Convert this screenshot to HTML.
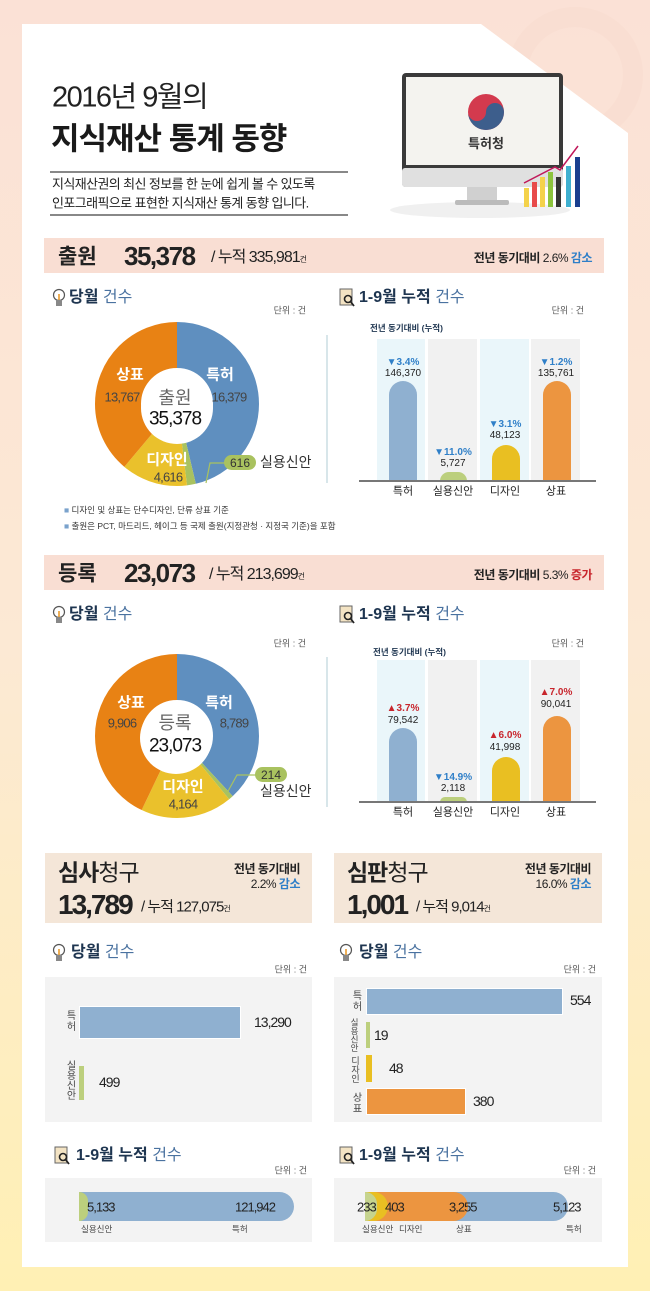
<!DOCTYPE html>
<html><head><meta charset="utf-8">
<style>
*{margin:0;padding:0;box-sizing:border-box}
body{width:650px;height:1291px;position:relative;overflow:hidden;font-family:"Liberation Sans","Noto Sans CJK KR",sans-serif;color:#222;background:linear-gradient(to bottom,#fbe1d6 0%,#fce9d4 50%,#fff0b4 100%)}
.panel{position:absolute;left:0;top:0;width:650px;height:1291px;background:#fff;clip-path:polygon(22px 24px,481px 24px,628px 133px,628px 1267px,22px 1267px)}
.t{position:absolute;white-space:nowrap;line-height:1}
.c{transform:translate(-50%,-50%)}
.l{transform:translateY(-50%)}
.r{transform:translate(-100%,-50%)}
.b{font-weight:bold}
.blue{color:#2f7fc8}
.red{color:#c8252c}
.hd{font-size:16px;color:#1e3550;font-weight:bold}
.hd span{font-weight:normal;color:#4a72a0}
.unit{font-size:9px;color:#555}
.bar{position:absolute}
.vt{position:absolute;writing-mode:vertical-rl;font-size:10px;color:#444;line-height:1;letter-spacing:1px}
</style></head><body>
<svg style="position:absolute;left:0;top:0" width="650" height="1291">
<circle cx="575" cy="75" r="58" fill="none" stroke="#f9dccf" stroke-width="20" opacity="0.6"/>
</svg>
<div class="panel"></div>

<!-- title -->
<div class="t l" style="left:52px;top:98px;font-size:29px;letter-spacing:-1.5px;color:#222">2016년 9월의</div>
<div class="t l b" style="left:51px;top:139px;font-size:31px;letter-spacing:-1px;color:#1a1a1a">지식재산 통계 동향</div>
<div style="position:absolute;left:50px;top:171px;width:298px;height:2px;background:#888"></div>
<div class="t l" style="left:52px;top:184px;font-size:13px;letter-spacing:-0.6px">지식재산권의 최신 정보를 한 눈에 쉽게 볼 수 있도록</div>
<div class="t l" style="left:52px;top:203px;font-size:13px;letter-spacing:-0.6px">인포그래픽으로 표현한 지식재산 통계 동향 입니다.</div>
<div style="position:absolute;left:50px;top:214px;width:298px;height:2px;background:#888"></div>

<!-- monitor -->
<svg style="position:absolute;left:0;top:0" width="650" height="240">
<ellipse cx="480" cy="210" rx="90" ry="8" fill="#f0f0f0"/>
<rect x="402" y="73" width="161" height="114" rx="4" fill="#3a3a3a"/>
<rect x="402" y="168" width="161" height="19" rx="3" fill="#e0e0e0"/>
<rect x="406" y="77" width="153" height="88" fill="#f4f3ef"/>
<rect x="467" y="187" width="30" height="14" fill="#d0d0d0"/>
<rect x="455" y="200" width="54" height="5" rx="2" fill="#bbb"/>
<circle cx="486" cy="112" r="18" fill="#d33a4e"/>
<path d="M468 112 a18 18 0 0 0 36 0 a9 9 0 0 0 -18 0 a9 9 0 0 1 -18 0z" fill="#3d5e8c"/>
<text x="486" y="148" font-size="13" text-anchor="middle" font-family="Liberation Sans,Noto Sans CJK KR,sans-serif" font-weight="bold" fill="#333">특허청</text>
<rect x="524" y="188" width="5" height="19" fill="#f4d24a"/>
<rect x="532" y="182" width="5" height="25" fill="#e84a4a"/>
<rect x="540" y="177" width="5" height="30" fill="#f4d24a"/>
<rect x="548" y="172" width="5" height="35" fill="#8cc43c"/>
<rect x="556" y="177" width="5" height="30" fill="#333"/>
<rect x="566" y="166" width="5" height="41" fill="#3fb0d0"/>
<rect x="575" y="157" width="5" height="50" fill="#1a3f8f"/>
<polyline points="524,183 555,167 560,170 578,146" fill="none" stroke="#c0185a" stroke-width="1.5"/>
</svg>

<!-- 출원 header -->
<div style="position:absolute;left:44px;top:238px;width:560px;height:35px;background:#f9ded3"></div>
<div class="t l b" style="left:58px;top:257px;font-size:21px">출원</div>
<div class="t l b" style="left:124px;top:256px;font-size:26px;letter-spacing:-1.5px">35,378</div>
<div class="t l" style="left:211px;top:258px;font-size:16px;letter-spacing:-1px">/ 누적 335,981<span style="font-size:8px">건</span></div>
<div class="t r" style="left:592px;top:258px;font-size:12px;letter-spacing:-0.5px"><b>전년 동기대비</b> 2.6% <b class="blue">감소</b></div>

<!-- section1 headings -->
<svg style="position:absolute;left:52px;top:288px" width="14" height="20"><circle cx="7" cy="7" r="5.5" fill="#fff" stroke="#555" stroke-width="1.2"/><rect x="4" y="12" width="6" height="6" fill="#888"/><line x1="7" y1="6" x2="7" y2="12" stroke="#e8941f" stroke-width="1.5"/></svg>
<div class="t l hd" style="left:69px;top:298px">당월 <span>건수</span></div>
<div class="t r unit" style="left:306px;top:311px">단위 : 건</div>
<svg style="position:absolute;left:339px;top:288px" width="17" height="20"><rect x="1" y="1" width="12" height="16" fill="#f3e3c3" stroke="#666"/><circle cx="9" cy="11" r="3.5" fill="none" stroke="#222" stroke-width="1.6"/><line x1="11.5" y1="13.5" x2="15" y2="18" stroke="#222" stroke-width="1.8"/></svg>
<div class="t l hd" style="left:359px;top:298px">1-9월 누적 <span>건수</span></div>
<div class="t r unit" style="left:584px;top:311px">단위 : 건</div>

<!-- donut 1 -->
<svg style="position:absolute;left:0;top:0" width="650" height="560">
<g transform="rotate(-90 177 404)" fill="none" stroke-width="46">
<circle cx="177" cy="404" r="59" stroke="#5f8fbf" stroke-dasharray="171.6 400" stroke-dashoffset="0"/>
<circle cx="177" cy="404" r="59" stroke="#a9c25f" stroke-dasharray="6.45 400" stroke-dashoffset="-171.6"/>
<circle cx="177" cy="404" r="59" stroke="#eac12c" stroke-dasharray="48.37 400" stroke-dashoffset="-178.05"/>
<circle cx="177" cy="404" r="59" stroke="#e88214" stroke-dasharray="144.3 400" stroke-dashoffset="-226.42"/>
</g>
<circle cx="177" cy="408" r="36" fill="#fff"/>
<polyline points="206,483 210,463 225,463" fill="none" stroke="#a9c25f" stroke-width="1.2"/>
<rect x="224" y="455" width="32" height="15" rx="7.5" fill="#a9c25f"/>
<line x1="327" y1="335" x2="327" y2="483" stroke="#d8e6ea" stroke-width="2"/>
</svg>
<div class="t c b" style="left:220px;top:375px;font-size:15px;color:#fff">특허</div>
<div class="t c" style="left:229px;top:397px;font-size:13px;color:#444;letter-spacing:-0.8px">16,379</div>
<div class="t c b" style="left:130px;top:375px;font-size:15px;color:#fff">상표</div>
<div class="t c" style="left:122px;top:397px;font-size:13px;color:#444;letter-spacing:-0.8px">13,767</div>
<div class="t c" style="left:175px;top:398px;font-size:18px;color:#666">출원</div>
<div class="t c" style="left:175px;top:419px;font-size:19px;color:#111;letter-spacing:-1px">35,378</div>
<div class="t c b" style="left:167px;top:460px;font-size:15px;color:#fff">디자인</div>
<div class="t c" style="left:168px;top:477px;font-size:13px;color:#444;letter-spacing:-0.8px">4,616</div>
<div class="t c" style="left:240px;top:463px;font-size:12px;color:#333">616</div>
<div class="t l" style="left:260px;top:462px;font-size:14px;color:#333">실용신안</div>
<div class="t l" style="left:64px;top:510px;font-size:8.5px;color:#333"><span style="color:#7aa2cc">■</span> 디자인 및 상표는 단수디자인, 단류 상표 기준</div>
<div class="t l" style="left:64px;top:526px;font-size:8.5px;color:#333"><span style="color:#7aa2cc">■</span> 출원은 PCT, 마드리드, 헤이그 등 국제 출원(지정관청 · 지정국 기준)을 포함</div>

<!-- bar chart 1 -->
<div class="t l b" style="left:370px;top:328px;font-size:8.5px;color:#1e3550">전년 동기대비 (누적)</div>
<div class="bar" style="left:377px;top:339px;width:48px;height:142px;background:#eaf6fa"></div>
<div class="bar" style="left:428px;top:339px;width:49px;height:142px;background:#f1f1f1"></div>
<div class="bar" style="left:480px;top:339px;width:49px;height:142px;background:#eaf6fa"></div>
<div class="bar" style="left:531px;top:339px;width:49px;height:142px;background:#f1f1f1"></div>
<div class="bar" style="left:389px;top:381px;width:28px;height:100px;background:#8fb0d0;border-radius:14px 14px 0 0"></div>
<div class="bar" style="left:440px;top:472px;width:27px;height:9px;background:#bccf7d;border-radius:14px 14px 0 0"></div>
<div class="bar" style="left:492px;top:445px;width:28px;height:36px;background:#e9bf22;border-radius:14px 14px 0 0"></div>
<div class="bar" style="left:543px;top:381px;width:28px;height:100px;background:#ec9540;border-radius:14px 14px 0 0"></div>
<div class="bar" style="left:359px;top:480px;width:237px;height:2px;background:#777"></div>
<div class="t c b blue" style="left:403px;top:363px;font-size:10px">▼3.4%</div>
<div class="t c" style="left:403px;top:374px;font-size:10px">146,370</div>
<div class="t c b blue" style="left:453px;top:453px;font-size:10px">▼11.0%</div>
<div class="t c" style="left:453px;top:464px;font-size:10px">5,727</div>
<div class="t c b blue" style="left:505px;top:425px;font-size:10px">▼3.1%</div>
<div class="t c" style="left:505px;top:436px;font-size:10px">48,123</div>
<div class="t c b blue" style="left:556px;top:363px;font-size:10px">▼1.2%</div>
<div class="t c" style="left:556px;top:374px;font-size:10px">135,761</div>
<div class="t c" style="left:403px;top:492px;font-size:11px">특허</div>
<div class="t c" style="left:453px;top:492px;font-size:11px">실용신안</div>
<div class="t c" style="left:505px;top:492px;font-size:11px">디자인</div>
<div class="t c" style="left:556px;top:492px;font-size:11px">상표</div>

<!-- 등록 header -->
<div style="position:absolute;left:44px;top:555px;width:560px;height:35px;background:#f9ded3"></div>
<div class="t l b" style="left:58px;top:574px;font-size:21px">등록</div>
<div class="t l b" style="left:124px;top:573px;font-size:26px;letter-spacing:-1.5px">23,073</div>
<div class="t l" style="left:209px;top:575px;font-size:16px;letter-spacing:-1px">/ 누적 213,699<span style="font-size:8px">건</span></div>
<div class="t r" style="left:592px;top:575px;font-size:12px;letter-spacing:-0.5px"><b>전년 동기대비</b> 5.3% <b class="red">증가</b></div>

<svg style="position:absolute;left:52px;top:605px" width="14" height="20"><circle cx="7" cy="7" r="5.5" fill="#fff" stroke="#555" stroke-width="1.2"/><rect x="4" y="12" width="6" height="6" fill="#888"/><line x1="7" y1="6" x2="7" y2="12" stroke="#e8941f" stroke-width="1.5"/></svg>
<div class="t l hd" style="left:69px;top:615px">당월 <span>건수</span></div>
<div class="t r unit" style="left:306px;top:644px">단위 : 건</div>
<svg style="position:absolute;left:339px;top:605px" width="17" height="20"><rect x="1" y="1" width="12" height="16" fill="#f3e3c3" stroke="#666"/><circle cx="9" cy="11" r="3.5" fill="none" stroke="#222" stroke-width="1.6"/><line x1="11.5" y1="13.5" x2="15" y2="18" stroke="#222" stroke-width="1.8"/></svg>
<div class="t l hd" style="left:359px;top:615px">1-9월 누적 <span>건수</span></div>
<div class="t r unit" style="left:584px;top:644px">단위 : 건</div>

<!-- donut 2 -->
<svg style="position:absolute;left:0;top:0" width="650" height="830">
<g transform="rotate(-90 177 736)" fill="none" stroke-width="46">
<circle cx="177" cy="736" r="59" stroke="#5f8fbf" stroke-dasharray="141.2 400" stroke-dashoffset="0"/>
<circle cx="177" cy="736" r="59" stroke="#a9c25f" stroke-dasharray="3.44 400" stroke-dashoffset="-141.2"/>
<circle cx="177" cy="736" r="59" stroke="#eac12c" stroke-dasharray="66.9 400" stroke-dashoffset="-144.64"/>
<circle cx="177" cy="736" r="59" stroke="#e88214" stroke-dasharray="159.2 400" stroke-dashoffset="-211.54"/>
</g>
<circle cx="176" cy="738" r="36" fill="#fff"/>
<polyline points="227,793 237,775 257,775" fill="none" stroke="#a9c25f" stroke-width="1.2"/>
<rect x="255" y="767" width="32" height="15" rx="7.5" fill="#a9c25f"/>
<line x1="327" y1="657" x2="327" y2="807" stroke="#d8e6ea" stroke-width="2"/>
</svg>
<div class="t c b" style="left:219px;top:703px;font-size:15px;color:#fff">특허</div>
<div class="t c" style="left:234px;top:723px;font-size:13px;color:#444;letter-spacing:-0.8px">8,789</div>
<div class="t c b" style="left:131px;top:703px;font-size:15px;color:#fff">상표</div>
<div class="t c" style="left:122px;top:723px;font-size:13px;color:#444;letter-spacing:-0.8px">9,906</div>
<div class="t c" style="left:175px;top:723px;font-size:18px;color:#666">등록</div>
<div class="t c" style="left:175px;top:746px;font-size:19px;color:#111;letter-spacing:-1px">23,073</div>
<div class="t c b" style="left:183px;top:787px;font-size:15px;color:#fff">디자인</div>
<div class="t c" style="left:183px;top:804px;font-size:13px;color:#444;letter-spacing:-0.8px">4,164</div>
<div class="t c" style="left:271px;top:775px;font-size:12px;color:#333">214</div>
<div class="t l" style="left:260px;top:791px;font-size:14px;color:#333">실용신안</div>

<!-- bar chart 2 -->
<div class="t l b" style="left:373px;top:652px;font-size:8.5px;color:#1e3550">전년 동기대비 (누적)</div>
<div class="bar" style="left:377px;top:660px;width:48px;height:142px;background:#eaf6fa"></div>
<div class="bar" style="left:428px;top:660px;width:49px;height:142px;background:#f1f1f1"></div>
<div class="bar" style="left:480px;top:660px;width:49px;height:142px;background:#eaf6fa"></div>
<div class="bar" style="left:531px;top:660px;width:49px;height:142px;background:#f1f1f1"></div>
<div class="bar" style="left:389px;top:728px;width:28px;height:74px;background:#8fb0d0;border-radius:14px 14px 0 0"></div>
<div class="bar" style="left:440px;top:797px;width:27px;height:5px;background:#bccf7d;border-radius:14px 14px 0 0"></div>
<div class="bar" style="left:492px;top:757px;width:28px;height:45px;background:#e9bf22;border-radius:14px 14px 0 0"></div>
<div class="bar" style="left:543px;top:716px;width:28px;height:86px;background:#ec9540;border-radius:14px 14px 0 0"></div>
<div class="bar" style="left:359px;top:801px;width:237px;height:2px;background:#777"></div>
<div class="t c b red" style="left:403px;top:709px;font-size:10px">▲3.7%</div>
<div class="t c" style="left:403px;top:721px;font-size:10px">79,542</div>
<div class="t c b blue" style="left:453px;top:778px;font-size:10px">▼14.9%</div>
<div class="t c" style="left:453px;top:789px;font-size:10px">2,118</div>
<div class="t c b red" style="left:505px;top:736px;font-size:10px">▲6.0%</div>
<div class="t c" style="left:505px;top:748px;font-size:10px">41,998</div>
<div class="t c b red" style="left:556px;top:693px;font-size:10px">▲7.0%</div>
<div class="t c" style="left:556px;top:705px;font-size:10px">90,041</div>
<div class="t c" style="left:403px;top:813px;font-size:11px">특허</div>
<div class="t c" style="left:453px;top:813px;font-size:11px">실용신안</div>
<div class="t c" style="left:505px;top:813px;font-size:11px">디자인</div>
<div class="t c" style="left:556px;top:813px;font-size:11px">상표</div>

<!-- section 3 boxes -->
<div style="position:absolute;left:45px;top:853px;width:267px;height:70px;background:#f4e6d8"></div>
<div style="position:absolute;left:334px;top:853px;width:268px;height:70px;background:#f4e6d8"></div>
<div class="t l" style="left:58px;top:873px;font-size:23px;letter-spacing:-1px"><b>심사</b>청구</div>
<div class="t l b" style="left:58px;top:905px;font-size:28px;letter-spacing:-2px">13,789</div>
<div class="t l" style="left:141px;top:907px;font-size:15px;letter-spacing:-1px">/ 누적 127,075<span style="font-size:8px">건</span></div>
<div class="t r b" style="left:300px;top:869px;font-size:12px;letter-spacing:-0.5px">전년 동기대비</div>
<div class="t r" style="left:300px;top:884px;font-size:12px;letter-spacing:-0.5px">2.2% <b class="blue">감소</b></div>
<div class="t l" style="left:347px;top:873px;font-size:23px;letter-spacing:-1px"><b>심판</b>청구</div>
<div class="t l b" style="left:347px;top:905px;font-size:28px;letter-spacing:-2px">1,001</div>
<div class="t l" style="left:416px;top:907px;font-size:15px;letter-spacing:-1px">/ 누적 9,014<span style="font-size:8px">건</span></div>
<div class="t r b" style="left:591px;top:869px;font-size:12px;letter-spacing:-0.5px">전년 동기대비</div>
<div class="t r" style="left:591px;top:884px;font-size:12px;letter-spacing:-0.5px">16.0% <b class="blue">감소</b></div>

<svg style="position:absolute;left:52px;top:943px" width="14" height="20"><circle cx="7" cy="7" r="5.5" fill="#fff" stroke="#555" stroke-width="1.2"/><rect x="4" y="12" width="6" height="6" fill="#888"/><line x1="7" y1="6" x2="7" y2="12" stroke="#e8941f" stroke-width="1.5"/></svg>
<div class="t l hd" style="left:71px;top:953px">당월 <span>건수</span></div>
<div class="t r unit" style="left:307px;top:970px">단위 : 건</div>
<svg style="position:absolute;left:339px;top:943px" width="14" height="20"><circle cx="7" cy="7" r="5.5" fill="#fff" stroke="#555" stroke-width="1.2"/><rect x="4" y="12" width="6" height="6" fill="#888"/><line x1="7" y1="6" x2="7" y2="12" stroke="#e8941f" stroke-width="1.5"/></svg>
<div class="t l hd" style="left:359px;top:953px">당월 <span>건수</span></div>
<div class="t r unit" style="left:596px;top:970px">단위 : 건</div>

<div style="position:absolute;left:45px;top:977px;width:267px;height:145px;background:#f3f3f3"></div>
<div style="position:absolute;left:334px;top:977px;width:268px;height:145px;background:#f3f3f3"></div>
<div class="bar" style="left:79px;top:1006px;width:162px;height:33px;background:#8fb0d0;border:1px solid #fff"></div>
<div class="t l" style="left:254px;top:1022px;font-size:14px;letter-spacing:-1px">13,290</div>
<div class="vt" style="left:64px;top:1010px">특허</div>
<div class="bar" style="left:79px;top:1066px;width:5px;height:34px;background:#bccf7d"></div>
<div class="t l" style="left:99px;top:1082px;font-size:14px;letter-spacing:-1px">499</div>
<div class="vt" style="left:64px;top:1060px;letter-spacing:0">실용신안</div>

<div class="bar" style="left:366px;top:988px;width:197px;height:27px;background:#8fb0d0;border:1px solid #fff"></div>
<div class="t l" style="left:570px;top:1000px;font-size:14px;letter-spacing:-1px">554</div>
<div class="vt" style="left:350px;top:990px">특허</div>
<div class="bar" style="left:366px;top:1022px;width:4px;height:26px;background:#bccf7d"></div>
<div class="t l" style="left:374px;top:1035px;font-size:14px;letter-spacing:-1px">19</div>
<div class="vt" style="left:350px;top:1018px;font-size:8.5px;letter-spacing:0">실용신안</div>
<div class="bar" style="left:366px;top:1055px;width:6px;height:27px;background:#e9bf22"></div>
<div class="t l" style="left:389px;top:1068px;font-size:14px;letter-spacing:-1px">48</div>
<div class="vt" style="left:350px;top:1056px;font-size:9px;letter-spacing:0">디자인</div>
<div class="bar" style="left:366px;top:1088px;width:100px;height:27px;background:#ec9540;border:1px solid #fff"></div>
<div class="t l" style="left:473px;top:1101px;font-size:14px;letter-spacing:-1px">380</div>
<div class="vt" style="left:350px;top:1092px">상표</div>

<!-- cumulative -->
<svg style="position:absolute;left:54px;top:1146px" width="17" height="20"><rect x="1" y="1" width="12" height="16" fill="#f3e3c3" stroke="#666"/><circle cx="9" cy="11" r="3.5" fill="none" stroke="#222" stroke-width="1.6"/><line x1="11.5" y1="13.5" x2="15" y2="18" stroke="#222" stroke-width="1.8"/></svg>
<div class="t l hd" style="left:76px;top:1156px">1-9월 누적 <span>건수</span></div>
<div class="t r unit" style="left:307px;top:1171px">단위 : 건</div>
<svg style="position:absolute;left:339px;top:1146px" width="17" height="20"><rect x="1" y="1" width="12" height="16" fill="#f3e3c3" stroke="#666"/><circle cx="9" cy="11" r="3.5" fill="none" stroke="#222" stroke-width="1.6"/><line x1="11.5" y1="13.5" x2="15" y2="18" stroke="#222" stroke-width="1.8"/></svg>
<div class="t l hd" style="left:359px;top:1156px">1-9월 누적 <span>건수</span></div>
<div class="t r unit" style="left:596px;top:1171px">단위 : 건</div>

<div style="position:absolute;left:45px;top:1178px;width:267px;height:64px;background:#f3f3f3"></div>
<div style="position:absolute;left:334px;top:1178px;width:268px;height:64px;background:#f3f3f3"></div>
<div class="bar" style="left:79px;top:1192px;width:215px;height:29px;background:#8fb0d0;border-radius:0 15px 15px 0"></div>
<div class="bar" style="left:79px;top:1192px;width:9px;height:29px;background:#bccf7d;border-radius:0 15px 15px 0"></div>
<div class="t l" style="left:87px;top:1207px;font-size:13px;letter-spacing:-1px">5,133</div>
<div class="t r" style="left:275px;top:1207px;font-size:13px;letter-spacing:-1px">121,942</div>
<div class="t l" style="left:81px;top:1229px;font-size:8.5px;color:#444">실용신안</div>
<div class="t l" style="left:232px;top:1229px;font-size:8.5px;color:#444">특허</div>

<div class="bar" style="left:365px;top:1192px;width:203px;height:29px;background:#8fb0d0;border-radius:0 15px 15px 0"></div>
<div class="bar" style="left:365px;top:1192px;width:103px;height:29px;background:#ec9540;border-radius:0 15px 15px 0"></div>
<div class="bar" style="left:365px;top:1192px;width:23px;height:29px;background:#e9bf22;border-radius:0 15px 15px 0"></div>
<div class="bar" style="left:365px;top:1192px;width:12px;height:29px;background:#c6d48e;border-radius:0 15px 15px 0"></div>
<div class="t l" style="left:357px;top:1207px;font-size:13px;letter-spacing:-1px">233</div>
<div class="t l" style="left:385px;top:1207px;font-size:13px;letter-spacing:-1px">403</div>
<div class="t l" style="left:449px;top:1207px;font-size:13px;letter-spacing:-1px">3,255</div>
<div class="t l" style="left:553px;top:1207px;font-size:13px;letter-spacing:-1px">5,123</div>
<div class="t l" style="left:362px;top:1229px;font-size:8.5px;color:#444">실용신안</div>
<div class="t l" style="left:399px;top:1229px;font-size:8.5px;color:#444">디자인</div>
<div class="t l" style="left:456px;top:1229px;font-size:8.5px;color:#444">상표</div>
<div class="t l" style="left:566px;top:1229px;font-size:8.5px;color:#444">특허</div>
</body></html>
